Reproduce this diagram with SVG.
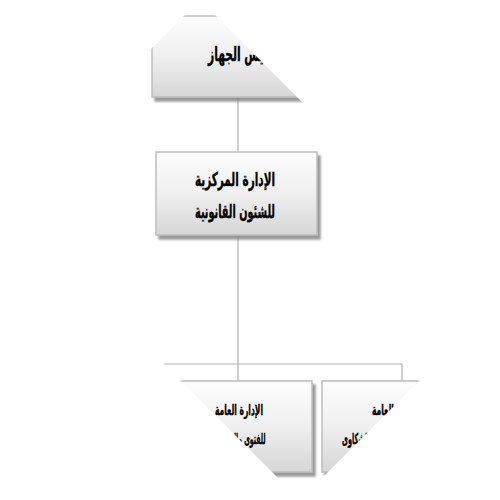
<svg xmlns="http://www.w3.org/2000/svg" width="500" height="500" viewBox="0 0 500 500">
<defs>
<style>
.box{fill:url(#g);stroke:#bdbdbd;stroke-width:1.5;filter:url(#sh)}
.ln{stroke:#b0b0b0;stroke-width:1.2;fill:none}
.t{font-family:"DejaVu Sans Condensed","DejaVu Sans",sans-serif;font-weight:bold;fill:#000;stroke:#000;stroke-width:0.35;text-anchor:middle}
</style>
<linearGradient id="g" x1="0" y1="0" x2="0" y2="1">
<stop offset="0" stop-color="#fdfdfd"/>
<stop offset="0.5" stop-color="#efefef"/>
<stop offset="1" stop-color="#d6d6d6"/>
</linearGradient>
<filter id="sh" x="-10%" y="-10%" width="130%" height="130%">
<feDropShadow dx="3" dy="4" stdDeviation="1.2" flood-color="#808080" flood-opacity="0.8"/>
</filter>
<clipPath id="clip">
<polygon points="200,0 500,300 300,500 0,200"/>
</clipPath>
</defs>
<rect width="500" height="500" fill="#fff"/>
<g clip-path="url(#clip)">
<g id="connectors">
<line class="ln" x1="238" y1="97" x2="238" y2="152"/>
<line class="ln" x1="238" y1="235" x2="238" y2="381"/>
<line class="ln" x1="70" y1="364" x2="402" y2="364"/>
<line class="ln" x1="402" y1="364" x2="402" y2="381"/>
</g>
<g id="node-top">
<rect class="box" x="152" y="16" width="170" height="81"/>
<text class="t" x="241" y="61" font-size="20" textLength="66" lengthAdjust="spacingAndGlyphs">رئيس الجهاز</text>
</g>
<g id="node-center">
<rect class="box" x="156" y="152" width="161" height="83"/>
<text class="t" x="235" y="186" font-size="19" textLength="80" lengthAdjust="spacingAndGlyphs">الإدارة المركزية</text>
<text class="t" x="235" y="218" font-size="19" textLength="80" lengthAdjust="spacingAndGlyphs">للشئون القانونية</text>
</g>
<g id="node-left">
<rect class="box" x="164" y="381" width="148" height="91"/>
<text class="t" x="239" y="415" font-size="15" textLength="48" lengthAdjust="spacingAndGlyphs">الإدارة العامة</text>
<text class="t" x="240" y="444" font-size="15" textLength="51" lengthAdjust="spacingAndGlyphs">للفتوى والتشريع</text>
</g>
<g id="node-right">
<rect class="box" x="322" y="381" width="160" height="91"/>
<text class="t" x="396" y="415" font-size="15" textLength="48" lengthAdjust="spacingAndGlyphs">الإدارة العامة</text>
<text class="t" x="374" y="444" font-size="15" textLength="64" lengthAdjust="spacingAndGlyphs">للتظلمات والشكاوى</text>
</g>
</g>
</svg>
